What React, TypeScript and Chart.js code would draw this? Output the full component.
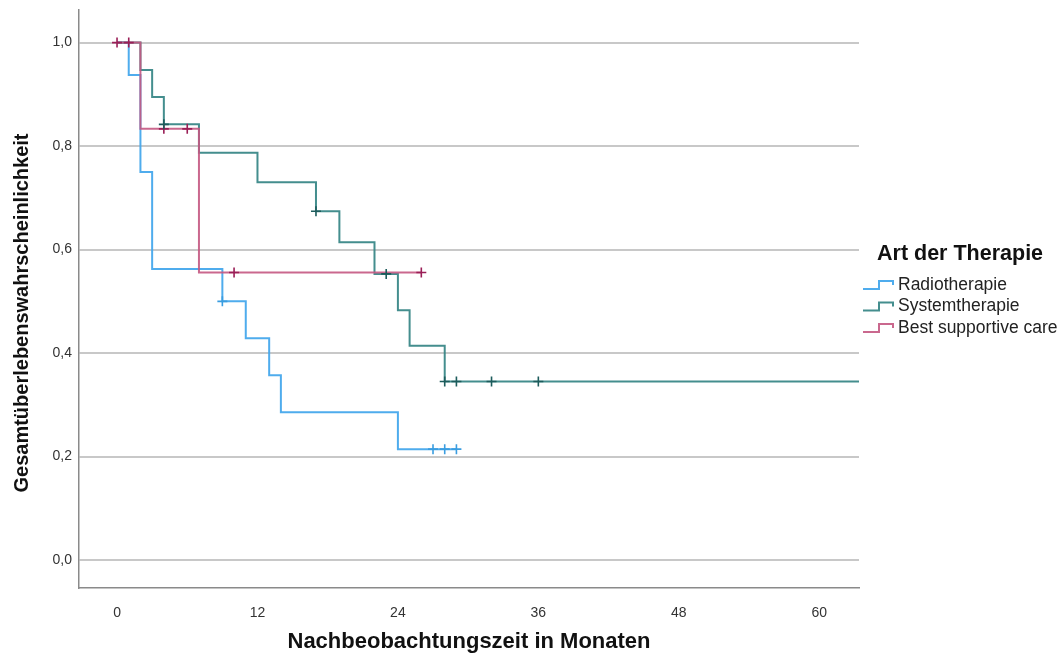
import React, { useEffect, useRef } from "react";
import { Chart, registerables } from "chart.js";
Chart.register(...registerables);

const X_TICKS = [0, 12, 24, 36, 48, 60];
const Y_TICKS = [0, 0.2, 0.4, 0.6, 0.8, 1.0];
const X_MIN = -3.25;
const X_MAX = 63.4;
const Y_MIN = -0.054;
const Y_MAX = 1.063;

const SERIES = ["Radiotherapie", "Systemtherapie", "Best supportive care"];
const LEGEND_TITLE = "Art der Therapie";
const X_TITLE = "Nachbeobachtungszeit in Monaten";
const Y_TITLE = "Gesamtüberlebenswahrscheinlichkeit";

// Radiotherapie
const radioTime = [0, 1, 2, 3, 9, 11, 13, 14, 24, 29];
const radioSurv = [1, 0.9375, 0.75, 0.5625, 0.5, 0.4286, 0.3571, 0.2857, 0.2143, 0.2143];
const radioCensorTime = [9, 27, 28, 29];
const radioCensorSurv = [0.5, 0.2143, 0.2143, 0.2143];

// Systemtherapie
const sysTime = [0, 2, 3, 4, 7, 12, 17, 19, 22, 24, 25, 28, 63.4];
const sysSurv = [1, 0.947, 0.895, 0.842, 0.787, 0.73, 0.674, 0.614, 0.553, 0.483, 0.414, 0.345, 0.345];
const sysCensorTime = [4, 17, 23, 28, 29, 32, 36];
const sysCensorSurv = [0.842, 0.674, 0.553, 0.345, 0.345, 0.345, 0.345];

// Best supportive care
const bscTime = [0, 2, 7, 26];
const bscSurv = [1, 0.8333, 0.5556, 0.5556];
const bscCensorTime = [0, 1, 4, 6, 10, 26];
const bscCensorSurv = [1, 1, 0.8333, 0.8333, 0.5556, 0.5556];

const LINE_COLORS = ["rgba(70,168,236,0.95)", "rgba(52,132,132,0.92)", "rgba(196,88,130,0.9)"];
const MARK_COLORS = ["#3a9de0", "#1d5c5c", "#9a1f57"];

const FONT = "'Liberation Sans', Arial, sans-serif";

const zip = (xs: number[], ys: number[]) => xs.map((x, i) => ({ x, y: ys[i] }));

const legendPlugin = {
  id: "kmLegend",
  afterDraw(chart: any) {
    const ctx = chart.ctx;
    const area = chart.chartArea;
    ctx.save();
    // y-axis title
    ctx.translate(22, 313);
    ctx.rotate(-Math.PI / 2);
    ctx.fillStyle = "#111";
    ctx.font = `bold 20px ${FONT}`;
    ctx.textAlign = "center";
    ctx.textBaseline = "middle";
    ctx.fillText(Y_TITLE, 0, 0);
    ctx.restore();

    ctx.save();
    const left = area.right + 18;
    ctx.fillStyle = "#111";
    ctx.font = `bold 21.5px ${FONT}`;
    ctx.textBaseline = "middle";
    ctx.textAlign = "left";
    ctx.fillText(LEGEND_TITLE, left, 254);
    ctx.font = `17.5px ${FONT}`;
    SERIES.forEach((label, i) => {
      const y = 285 + i * 21.5;
      const ix = area.right + 4;
      ctx.strokeStyle = LINE_COLORS[i];
      ctx.lineWidth = 2;
      ctx.beginPath();
      ctx.moveTo(ix, y + 4);
      ctx.lineTo(ix + 16, y + 4);
      ctx.lineTo(ix + 16, y - 4);
      ctx.lineTo(ix + 30, y - 4);
      ctx.lineTo(ix + 30, y);
      ctx.stroke();
      ctx.fillStyle = "#222";
      ctx.fillText(label, ix + 35, y);
    });
    ctx.restore();
  },
};

export default function App() {
  const ref = useRef<HTMLCanvasElement>(null);
  useEffect(() => {
    document.body.style.margin = "0";
    const lines = [
      { t: radioTime, s: radioSurv },
      { t: sysTime, s: sysSurv },
      { t: bscTime, s: bscSurv },
    ];
    const censors = [
      { t: radioCensorTime, s: radioCensorSurv },
      { t: sysCensorTime, s: sysCensorSurv },
      { t: bscCensorTime, s: bscCensorSurv },
    ];
    const datasets: any[] = [];
    censors.forEach((c, i) => {
      datasets.push({
        type: "scatter",
        label: SERIES[i] + " zensiert",
        data: zip(c.t, c.s),
        pointStyle: "cross",
        pointRadius: 5,
        pointBorderWidth: 1.6,
        borderColor: MARK_COLORS[i],
        backgroundColor: MARK_COLORS[i],
        showLine: false,
      });
    });
    [2, 1, 0].forEach((i) => {
      datasets.push({
        type: "line",
        label: SERIES[i],
        data: zip(lines[i].t, lines[i].s),
        stepped: "before",
        borderColor: LINE_COLORS[i],
        borderWidth: 2,
        pointRadius: 0,
        fill: false,
      });
    });
    const chart = new Chart(ref.current!, {
      type: "line",
      data: { datasets },
      plugins: [legendPlugin],
      options: {
        animation: false,
        responsive: false,
        layout: { padding: { left: 0, right: 203, top: 10, bottom: 0 } },
        plugins: { legend: { display: false }, tooltip: { enabled: false } },
        scales: {
          x: {
            type: "linear",
            min: X_MIN,
            max: X_MAX,
            afterBuildTicks: (s: any) => {
              s.ticks = X_TICKS.map((v) => ({ value: v }));
            },
            afterFit: (s: any) => {
              s.height = 67;
              s.paddingLeft = 0;
              s.paddingRight = 0;
            },
            grid: { display: false },
            border: { display: true, color: "#8a8a8a", width: 1.5 },
            ticks: {
              padding: 9,
              color: "#333",
              font: { family: FONT, size: 14 },
              callback: (v: any) => String(v),
              maxRotation: 0,
            },
            title: {
              display: true,
              text: X_TITLE,
              color: "#111",
              font: { family: FONT, size: 22, weight: "bold" },
              padding: { top: 0, bottom: 0 },
            },
          },
          y: {
            type: "linear",
            min: Y_MIN,
            max: Y_MAX,
            afterBuildTicks: (s: any) => {
              s.ticks = Y_TICKS.map((v) => ({ value: v }));
            },
            afterFit: (s: any) => {
              s.width = 79;
              s.paddingTop = 0;
              s.paddingBottom = 0;
            },
            grid: { display: true, color: "#c8c8c8", lineWidth: 2, drawTicks: false },
            border: { display: true, color: "#8a8a8a", width: 1.5 },
            ticks: {
              padding: 7,
              color: "#333",
              font: { family: FONT, size: 14 },
              callback: (v: any) => Number(v).toFixed(1).replace(".", ","),
            },
            title: { display: false },
          },
        },
      } as any,
    });
    return () => chart.destroy();
  }, []);
  return (
    <div style={{ width: 1062, height: 655 }}>
      <canvas ref={ref} width={1062} height={655} />
    </div>
  );
}
